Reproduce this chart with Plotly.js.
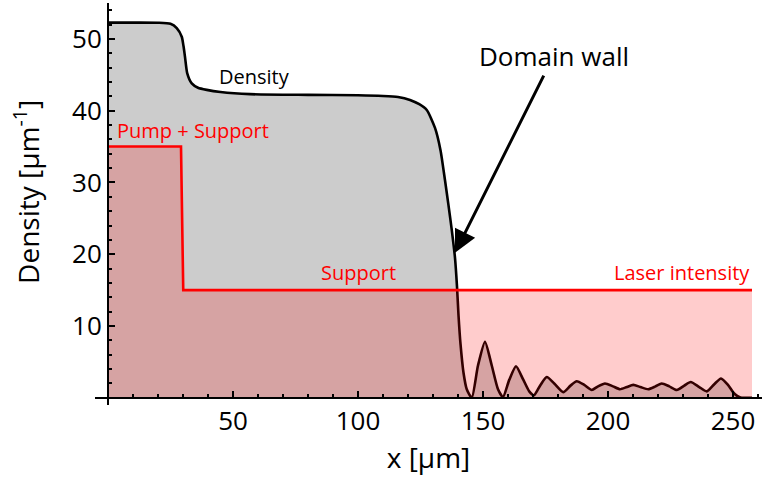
<!DOCTYPE html>
<html>
<head>
<meta charset="utf-8">
<script src="https://cdn.plot.ly/plotly-3.0.1.min.js"></script>
<style>html,body{margin:0;padding:0;background:#fff;}#chart{width:762px;height:483px;}</style>
</head>
<body>
<div id="chart"></div>
<script>
// Density profile (x in µm, density in µm^-1)
const densityX = [0, 10, 20, 25, 27.5, 29.5, 30.2, 30.8, 31.7, 33.5, 36, 39.5, 45, 56.8, 80, 100, 110, 116, 120.8, 124.5, 127.5, 130.8, 133, 134.8, 136.2, 137.5, 138.8, 139.6, 140.2, 141, 142.2, 143.5, 145.5,
  148, 150.8, 153.5, 156, 158, 160.5, 163.2, 166, 168.5, 170.4, 173, 175.5, 178.5, 182.1, 185, 187.5, 190.5, 193.5, 196, 198.8, 202, 204.8, 207.5, 210.1, 213, 216.1, 219, 221.5, 224.5, 227.5, 230.5, 233.1, 236.5, 239.5, 242.5, 245.2, 248, 250, 251.5, 253, 257.6];
const densityY = [52.27, 52.27, 52.25, 52.1, 51.5, 50.3, 49, 47.5, 45.2, 43.8, 43.2, 42.9, 42.6, 42.3, 42.2, 42.15, 42.05, 41.9, 41.5, 40.9, 40.1, 37.6, 34.5, 30.3, 26.8, 23.4, 19.5, 15.5, 11.5, 7.5, 3.5, 1.2, 0,
  4.5, 7.8, 4.5, 1.2, 0.1, 2.5, 4.4, 2.6, 0.9, 0.35, 1.8, 2.9, 2.0, 0.8, 1.7, 2.3, 1.8, 1.1, 1.6, 2.0, 1.6, 1.2, 1.5, 1.8, 1.5, 1.2, 1.6, 2.0, 1.6, 1.1, 1.7, 2.2, 1.5, 0.9, 1.9, 2.7, 1.8, 0.8, 0.3, 0.05, 0];

// Laser intensity (pump + support, then support)
const laserX = [0, 29.2, 30.1, 257.6];
const laserY = [35, 35, 15, 15];

// Tick values
const xTickVals = [50, 100, 150, 200, 250];
const yTickVals = [10, 20, 30, 40, 50];

const FONT = 'Open Sans, Noto Sans, sans-serif';

const traces = [
  {
    x: densityX, y: densityY, type: 'scatter', mode: 'lines',
    line: {color: '#000', width: 2.6, shape: 'spline', smoothing: 0.6},
    fill: 'tozeroy', fillcolor: 'rgba(0,0,0,0.2)', name: 'Density', hoverinfo: 'skip'
  },
  {
    x: laserX, y: laserY, type: 'scatter', mode: 'lines',
    line: {color: '#ff0000', width: 2.6},
    fill: 'tozeroy', fillcolor: 'rgba(255,0,0,0.2)', name: 'Laser intensity', hoverinfo: 'skip'
  }
];

const layout = {
  width: 762, height: 483,
  margin: {l: 95, r: 0, t: 3, b: 78},
  paper_bgcolor: '#fff', plot_bgcolor: 'rgba(0,0,0,0)',
  showlegend: false,
  font: {family: FONT, color: '#000'},
  xaxis: {
    range: [-5.2, 261.6], anchor: 'free', position: 1/56,
    showline: true, linecolor: '#000', linewidth: 2,
    showgrid: false, zeroline: false,
    tickmode: 'array', tickvals: xTickVals,
    ticks: 'inside', ticklen: 6, tickwidth: 2, tickcolor: '#000',
    minor: {dtick: 10, tick0: 0, ticks: 'inside', ticklen: 3, tickwidth: 2, tickcolor: '#000', showgrid: false},
    tickfont: {family: FONT, size: 26, color: '#000'},
    title: {text: 'x [μm]', font: {family: FONT, size: 28, color: '#000'}, standoff: 4}
  },
  yaxis: {
    range: [-1, 55], anchor: 'free', position: 5.2/266.8,
    showline: true, linecolor: '#000', linewidth: 2,
    showgrid: false, zeroline: false,
    tickmode: 'array', tickvals: yTickVals,
    ticks: 'inside', ticklen: 6, tickwidth: 2, tickcolor: '#000',
    minor: {dtick: 2, tick0: 0, ticks: 'inside', ticklen: 3, tickwidth: 2, tickcolor: '#000', showgrid: false},
    tickfont: {family: FONT, size: 26, color: '#000'}
  },
  annotations: [
    {xref: 'paper', yref: 'paper', x: -0.102, y: 0.53, text: 'Density [μm<sup>-1</sup>]', textangle: -90,
     showarrow: false, xanchor: 'center', yanchor: 'middle', font: {family: FONT, size: 28, color: '#000'}},
    {x: 2.8, y: 37.3, text: 'Pump + Support', showarrow: false, xanchor: 'left', yanchor: 'middle',
     font: {family: FONT, size: 20, color: '#ff0000'}},
    {x: 58.4, y: 44.8, text: 'Density', showarrow: false, xanchor: 'center', yanchor: 'middle',
     font: {family: FONT, size: 20, color: '#000'}},
    {x: 100, y: 17.45, text: 'Support', showarrow: false, xanchor: 'center', yanchor: 'middle',
     font: {family: FONT, size: 20, color: '#ff0000'}},
    {x: 257.6, y: 17.45, text: 'Laser intensity', showarrow: false, xanchor: 'right', yanchor: 'middle',
     font: {family: FONT, size: 20, color: '#ff0000'}},
    {x: 138.8, y: 20.2, ax: 178.2, ay: 47.6, axref: 'x', ayref: 'y', text: 'Domain wall', showarrow: true,
     arrowhead: 2, arrowsize: 1.5, arrowwidth: 3, arrowcolor: '#000',
     font: {family: FONT, size: 26, color: '#000'}}
  ]
};

Plotly.newPlot('chart', traces, layout, {displayModeBar: false, staticPlot: true});
</script>
</body>
</html>
